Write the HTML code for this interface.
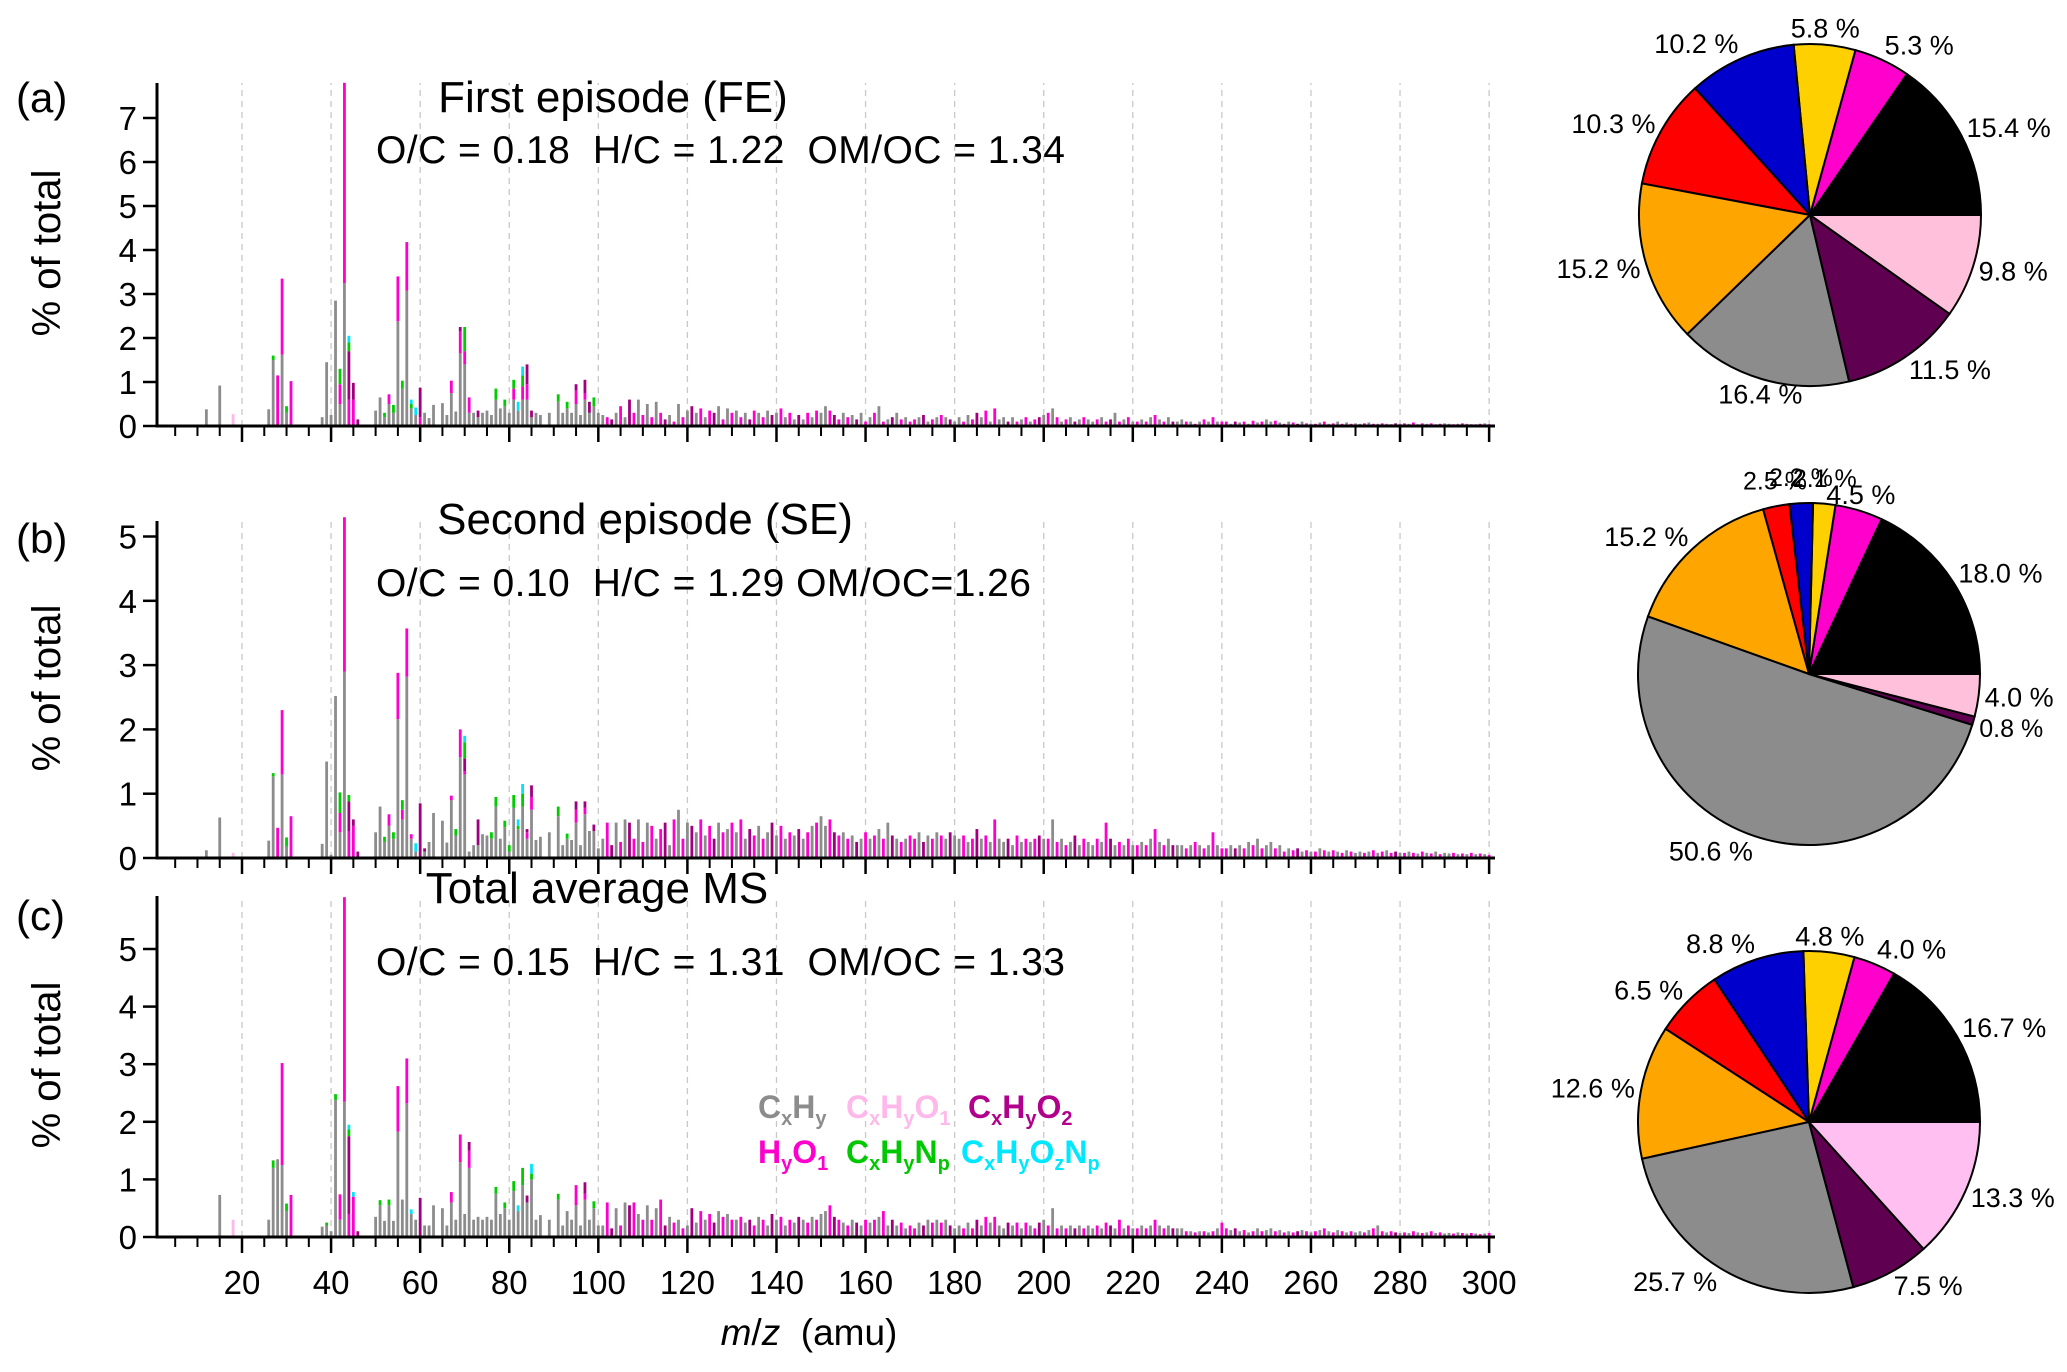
<!DOCTYPE html>
<html><head><meta charset="utf-8"><style>
html,body{margin:0;padding:0;background:#fff;}
svg{display:block;font-family:"Liberation Sans",Arial,sans-serif;}
.pre{white-space:pre;}
</style></head><body>
<svg id="chart" width="2067" height="1372" viewBox="0 0 2067 1372" xmlns="http://www.w3.org/2000/svg">
<rect width="2067" height="1372" fill="#fff"/>
<g id="plots"></g>
<g font-weight="bold" font-size="32">
 <text x="758" y="1118" fill="#8c8c8c">C<tspan font-size="20" dy="7">x</tspan><tspan dy="-7">H</tspan><tspan font-size="20" dy="7">y</tspan></text>
 <text x="846" y="1118" fill="#ffb8ea">C<tspan font-size="20" dy="7">x</tspan><tspan dy="-7">H</tspan><tspan font-size="20" dy="7">y</tspan><tspan dy="-7">O</tspan><tspan font-size="20" dy="7">1</tspan></text>
 <text x="968" y="1118" fill="#b0008c">C<tspan font-size="20" dy="7">x</tspan><tspan dy="-7">H</tspan><tspan font-size="20" dy="7">y</tspan><tspan dy="-7">O</tspan><tspan font-size="20" dy="7">2</tspan></text>
 <text x="758" y="1163" fill="#ff00cc">H<tspan font-size="20" dy="7">y</tspan><tspan dy="-7">O</tspan><tspan font-size="20" dy="7">1</tspan></text>
 <text x="846" y="1163" fill="#00c800">C<tspan font-size="20" dy="7">x</tspan><tspan dy="-7">H</tspan><tspan font-size="20" dy="7">y</tspan><tspan dy="-7">N</tspan><tspan font-size="20" dy="7">p</tspan></text>
 <text x="961" y="1163" fill="#00e8ff">C<tspan font-size="20" dy="7">x</tspan><tspan dy="-7">H</tspan><tspan font-size="20" dy="7">y</tspan><tspan dy="-7">O</tspan><tspan font-size="20" dy="7">z</tspan><tspan dy="-7">N</tspan><tspan font-size="20" dy="7">p</tspan></text>
</g>
<text class="pre" x="809" y="1345" font-size="37" text-anchor="middle"><tspan font-style="italic">m</tspan>/<tspan font-style="italic">z</tspan>  (amu)</text>
</svg>
<script>
// ---- shared m/z list for low-mass peaks ----
const peakMz=[12,15,18,26,27,28,29,30,31,38, 39,40,41,42,43,44,45,46,50,51, 52,53,54,55,56,57,58,59,60,61, 62,63,65,66,67,68,69,70,71,72, 73,74,75,76,77,78,79,80,81,82, 83,84,85,86,87,89,91,92,93,94, 95,96,97,98,99,100];
// ---- panel (a) ----
const aGray=[.38,.92,0,.38,1.5,0,1.62,.3,0,.2, 1.45,.25,2.85,.5,3.25,0,0,0,.35,.65, .2,.5,.3,2.38,.85,3.08,.4,.25,0,.3, .18,.48,.52,.25,.75,.33,1.65,1.4,.3,.3, .2,.3,.35,.25,.6,.4,.45,.3,.6,.35, .6,.6,.2,.3,.25,.3,.55,.3,.4,.3, .5,.25,.6,.3,.45,.3];
const aMag=[0,0,0,0,0,1.15,1.73,0,1.02,0, 0,0,0,.45,4.55,.6,.6,0,0,0, 0,.22,0,1.02,0,1.1,0,0,.2,0, 0,0,0,0,.28,0,.5,.3,.35,0, 0,0,0,0,0,0,0,0,.25,0, .3,.35,0,0,0,0,0,0,0,0, .3,0,.15,0,0,0];
const aPur=[0,0,0,0,0,0,0,0,0,0, 0,0,0,0,0,1.1,.38,.15,0,0, 0,0,0,0,0,0,0,0,.67,0, 0,0,0,0,0,0,.1,0,0,0, .15,0,0,0,0,0,0,0,0,0, 0,.45,.15,0,0,0,0,0,0,0, .15,0,.3,.25,0,0];
const aGrn=[0,0,0,0,.1,0,0,.15,0,0, 0,0,0,.35,0,.2,0,0,0,0, .1,0,.18,0,.18,0,.1,0,0,0, 0,0,0,0,0,0,0,.55,0,0, 0,0,0,0,.25,0,.15,0,.2,0, .25,0,0,0,0,0,.17,0,.15,0, 0,0,0,0,.2,0];
const aCyn=[0,0,0,0,0,0,0,0,0,0, 0,0,0,0,0,.15,0,0,0,0, 0,0,0,0,0,0,.1,.17,0,0, 0,0,0,0,0,0,0,0,0,0, 0,0,0,0,0,0,0,0,0,.2, .2,0,0,0,0,0,0,0,0,0, 0,0,0,0,0,0];
const aPnk=[0,0,.27,0,0,0,0,0,0,0];
const aTail=[.25,.2,.15,.3,.45,.2,.6,.3,.6,.25, .5,.2,.55,.3,.15,.25,.1,.5,.2,.35, .45,.3,.4,.2,.35,.3,.45,.15,.4,.3, .35,.2,.3,.15,.35,.3,.2,.35,.25,.3, .4,.2,.3,.15,.25,.15,.3,.2,.35,.3, .45,.35,.25,.15,.3,.2,.25,.15,.3,.1, .2,.3,.45,.1,.15,.2,.3,.15,.2,.1, .15,.2,.25,.1,.15,.2,.25,.2,.15,.1, .2,.1,.25,.15,.3,.2,.35,.1,.4,.15, .2,.1,.2,.1,.15,.2,.1,.15,.2,.25, .3,.4,.2,.1,.15,.2,.1,.15,.2,.15, .1,.15,.2,.1,.15,.3,.1,.15,.2,.1, .1,.15,.1,.2,.25,.15,.1,.2,.1,.1, .15,.1,.1,.05,.1,.15,.1,.2,.1,.1, .1,.05,.1,.08,.1,.05,.12,.08,.1,.15, .1,.12,.08,.05,.1,.08,.05,.1,.06,.05, .05,.08,.1,.05,.06,.1,.05,.08,.05,.06, .05,.06,.08,.05,.05,.06,.05,.04,.06,.05, .06,.05,.08,.04,.06,.05,.06,.04,.05,.06, .05,.04,.05,.06,.05,.04,.04,.05,.06,.04];
// ---- panel (b) ----
const bGray=[.12,.63,0,.27,1.27,0,1.3,.18,0,.22, 1.5,.05,2.52,.4,2.9,0,0,0,.4,.8, .25,.5,.3,2.16,.6,2.82,.3,.1,0,.1, .25,.7,.58,.24,.9,.35,1.57,1.3,.1,.2, .2,.37,.35,.3,.8,.3,.48,.1,.78,.45, .8,.3,.75,.28,.33,.4,.65,.2,.3,.28, .55,.2,.68,.42,.42,.15];
const bMag=[0,0,0,0,0,.47,1.0,0,.65,0, 0,0,0,.3,2.4,.42,.5,0,0,0, 0,.18,0,.72,.15,.75,.07,0,0,0, 0,0,0,0,.07,0,.43,.05,0,0, 0,0,0,0,0,0,0,0,0,0, 0,.1,.2,0,0,0,0,0,0,0, .2,0,.1,0,0,0];
const bPur=[0,0,0,0,0,0,0,0,0,0, 0,0,0,0,0,.46,.1,.1,0,0, 0,0,0,0,0,0,0,0,.85,.05, 0,0,0,0,0,0,0,.2,0,0, .4,0,0,0,0,0,0,0,0,0, 0,.05,.18,0,0,0,0,0,0,0, .13,0,.1,0,.1,0];
const bGrn=[0,0,0,0,.05,0,0,.14,0,0, 0,0,0,.32,0,.1,0,0,0,0, .08,0,.1,0,.15,0,0,0,0,0, 0,0,0,0,0,.1,0,.25,0,0, 0,0,0,.1,.15,0,.1,.1,.2,.05, .2,0,0,0,0,0,.15,0,.08,0, 0,0,0,0,0,0];
const bCyn=[0,0,0,0,0,0,0,0,0,0, 0,0,0,0,0,0,0,0,0,0, 0,0,0,0,0,0,0,.13,0,0, 0,0,0,0,0,0,0,.1,0,0, 0,0,0,0,0,0,0,0,0,.1, .15,0,0,0,0,0,0,0,0,0, 0,0,0,0,0,0];
const bPnk=[0,0,.08,0,0,0,0,0,0,0];
const bTail=[.3,.55,.2,.55,.25,.6,.55,.3,.6,.25, .55,.5,.3,.45,.55,.2,.6,.75,.3,.55, .5,.4,.6,.35,.5,.3,.55,.4,.45,.55, .4,.6,.3,.45,.35,.5,.3,.4,.55,.35, .5,.3,.4,.35,.45,.3,.4,.5,.55,.65, .5,.6,.4,.35,.4,.3,.35,.25,.3,.4, .3,.35,.45,.3,.55,.35,.3,.25,.3,.35, .3,.4,.25,.35,.3,.4,.35,.3,.4,.35, .3,.35,.25,.3,.45,.3,.35,.25,.6,.3, .25,.3,.2,.35,.25,.3,.25,.3,.35,.3, .3,.6,.25,.3,.2,.25,.35,.2,.3,.25, .2,.3,.25,.55,.3,.2,.25,.2,.3,.2, .2,.25,.2,.3,.45,.25,.2,.3,.2,.2, .2,.15,.2,.25,.2,.15,.2,.4,.2,.15, .15,.2,.15,.2,.15,.25,.2,.3,.15,.2, .25,.15,.2,.1,.15,.12,.15,.1,.12,.1, .1,.15,.12,.1,.12,.1,.08,.12,.1,.08, .1,.08,.1,.12,.08,.1,.12,.08,.1,.08, .08,.1,.08,.07,.1,.08,.07,.1,.06,.08, .07,.08,.06,.07,.06,.08,.06,.07,.06,.05];
// ---- panel (c) ----
const cGray=[0,.73,0,.3,1.2,1.35,1.25,.45,0,.18, .2,.1,2.38,.3,2.35,0,0,0,.35,.55, .28,.55,.28,1.83,.65,2.32,.4,.3,0,.2, .2,.55,.5,.2,.6,.3,1.3,.4,1.2,.3, .35,.3,.35,.3,.75,.4,.5,.3,.8,.45, .9,.6,1.0,.3,.38,.3,.65,.2,.45,.3, .55,.2,.65,.3,.5,.2];
const cMag=[0,0,0,0,0,0,1.77,0,.73,0, 0,0,0,.44,3.55,.4,.7,0,0,0, 0,0,0,.79,0,.78,0,0,0,0, 0,0,0,0,.18,0,.48,0,.3,0, 0,0,0,0,0,0,0,0,0,0, 0,0,0,0,0,0,0,0,0,0, .35,0,.1,0,0,0];
const cPur=[0,0,0,0,0,0,0,0,0,0, 0,0,0,0,0,1.35,0,.1,0,0, 0,0,0,0,0,0,0,0,.68,0, 0,0,0,0,0,0,0,0,.15,0, 0,0,0,0,0,0,0,0,0,0, 0,.12,0,0,0,0,0,0,0,0, 0,0,.2,0,0,0];
const cGrn=[0,0,0,0,.13,0,0,.13,0,0, .05,0,.1,0,0,.12,0,0,0,.09, 0,.1,0,0,0,0,0,0,0,0, 0,0,0,0,0,0,0,0,0,0, 0,0,0,0,.12,0,.1,0,.17,0, .3,0,.1,0,0,0,.1,0,0,0, 0,0,0,0,.12,0];
const cCyn=[0,0,0,0,0,0,0,0,0,0, 0,0,0,0,0,.08,.08,0,0,0, 0,0,0,0,0,0,.08,0,0,0, 0,0,0,0,0,0,0,0,0,0, 0,0,0,0,0,0,0,0,0,.1, 0,0,.17,0,0,0,0,0,0,0, 0,0,0,0,0,0];
const cPnk=[0,0,.3,0,0,0,0,0,0,0];
const cTail=[.2,.6,.15,.5,.2,.6,.55,.6,.4,.3, .55,.3,.5,.65,.2,.35,.25,.3,.15,.2, .5,.25,.45,.3,.4,.25,.45,.35,.4,.3, .3,.35,.25,.3,.2,.35,.3,.2,.4,.3, .35,.2,.3,.25,.35,.3,.25,.35,.3,.4, .45,.55,.35,.3,.25,.2,.3,.25,.2,.3, .25,.3,.35,.45,.2,.3,.2,.25,.15,.2, .15,.25,.2,.3,.25,.3,.25,.3,.2,.15, .2,.15,.25,.15,.3,.2,.35,.25,.35,.2, .15,.25,.2,.25,.15,.25,.2,.15,.25,.3, .2,.5,.15,.2,.15,.2,.15,.2,.15,.2, .15,.2,.15,.25,.2,.15,.3,.15,.2,.15, .15,.2,.15,.2,.3,.2,.15,.2,.15,.15, .15,.1,.1,.08,.1,.1,.08,.1,.15,.25, .15,.12,.15,.1,.12,.08,.1,.15,.1,.12, .15,.1,.12,.08,.1,.08,.1,.12,.1,.08, .1,.12,.15,.1,.08,.12,.1,.08,.1,.08, .1,.08,.12,.15,.2,.1,.08,.1,.08,.07, .08,.07,.1,.08,.07,.08,.1,.07,.08,.06, .07,.06,.08,.07,.06,.07,.06,.05,.06,.07];
// tail colour class per m/z 101..300 (g=CxHy, m=HyO1, p=CxHyO2)
const tailColors="gmpgmgpmgmgmgmpgmgmgpgmgmpgmgmgmgpmgmgpgmgmgpgmgmggmpmgmgpgmgmgmgpgmgmmgpgmgmgpggmgmpgmgmggpgmgmgmpgmgmgmgpgmggmgmpgmgmgmgmgmgmgpggmgmgmgmgmmgpgmgmgmggmgmgmpgmgmgmgmgmgmggmgmgmgmpgmgmgmgmgmggmgmgmgmgm";
// ---- pies (order: CCW from 3 o'clock) ----
const pieA=[15.4,5.3,5.8,10.2,10.3,15.2,16.4,11.5,9.8];
const pieB=[18.0,4.5,2.1,2.2,2.5,15.2,50.6,0.8,4.0];
const pieC=[16.7,4.0,4.8,8.8,6.5,12.6,25.7,7.5,13.3];
const yTicksA=[0,1,2,3,4,5,6,7];
const yTicksB=[0,1,2,3,4,5];
const yTicksC=[0,1,2,3,4,5];
const xTickLabels=[20,40,60,80,100,120,140,160,180,200,220,240,260,280,300];

const NS="http://www.w3.org/2000/svg";
const root=document.getElementById('plots');
function mk(tag,attrs,parent){const e=document.createElementNS(NS,tag);for(const k in attrs)e.setAttribute(k,attrs[k]);(parent||root).appendChild(e);return e;}
const X0=157,X1=1495;
function xs(mz){return 242+(mz-20)*4.454;}
const COL={gray:'#8c8c8c',mag:'#ff00cc',pur:'#a0007e',grn:'#00cc00',cyn:'#00e5ff',pnk:'#ffb8ea'};
const tailMap={g:'#8c8c8c',m:'#ff00cc',p:'#a0007e'};

function panel(id,base,ppu,top,ticks,showLabels,letter,title,ratio,titleY,ratioY,yTitleY,ser,tail,ratioLen){
  const g=mk('g',{});
  
  
  const ys=v=>base-v*ppu;
  for(let m=20;m<=300;m+=20){
    const l=mk('line',{x1:xs(m),x2:xs(m),y1:base,y2:top,stroke:'#c8c8c8','stroke-width':1.3,'stroke-dasharray':'6,5'},g);
    
    
  }
  const bw=2.8;
  for(let i=0;i<peakMz.length;i++){
    let y=0;
    const segs=[['gray',ser.gray],['pnk',ser.pnk],['mag',ser.mag],['pur',ser.pur],['grn',ser.grn],['cyn',ser.cyn]];
    for(const [k,arr] of segs){
      const v=arr[i]||0; if(v<=0) continue;
      const r=mk('rect',{x:xs(peakMz[i])-bw/2,y:ys(y+v),width:bw,height:v*ppu,fill:COL[k]},g);
      
      
      y+=v;
    }
  }
  for(let i=0;i<tail.length;i++){
    const mz=101+i,v=tail[i];
    const r=mk('rect',{x:xs(mz)-bw/2,y:ys(v),width:bw,height:v*ppu,fill:tailMap[tailColors[i]]||'#8c8c8c'},g);
    
    
  }
  const ya=mk('line',{x1:X0,x2:X0,y1:top,y2:base+1.5,stroke:'#000','stroke-width':3},g);
  
  
  const xa=mk('line',{x1:X0-1.5,x2:X1,y1:base,y2:base,stroke:'#000','stroke-width':3},g);
  
  
  for(let m=5;m<=300;m+=5){
    const major=m%20===0;
    const t=mk('line',{x1:xs(m),x2:xs(m),y1:base,y2:base+(major?16:10),stroke:'#000','stroke-width':major?2.5:2},g);
    
    
  }
  if(showLabels){
    for(const v of xTickLabels){
      const t=mk('text',{x:xs(v),y:1294,'font-size':33,'text-anchor':'middle'},g);
      t.textContent=v;
      
      
    }
  }
  for(const v of ticks){
    const t=mk('line',{x1:X0-14,x2:X0,y1:ys(v),y2:ys(v),stroke:'#000','stroke-width':2.5},g);
    
    
    const l=mk('text',{x:X0-20,y:ys(v)+12,'font-size':33,'text-anchor':'end'},g);
    l.textContent=v;
    
    
  }
  const yt=mk('text',{x:60,y:yTitleY,'font-size':40,'text-anchor':'middle',transform:'rotate(-90 60 '+yTitleY+')'},g);
  yt.textContent='% of total';
  
  
  const pl=mk('text',{x:16,y:letter[1],'font-size':42},g);
  pl.textContent=letter[0];
  
  
  const tt=mk('text',{x:title[1],y:titleY,'font-size':44,'text-anchor':'middle'},g);
  tt.textContent=title[0];
  
  
  const rt=mk('text',{x:376,y:ratioY,'font-size':39,'class':'pre',textLength:ratioLen,lengthAdjust:'spacing'},g);
  rt.textContent=ratio;
  
  
}

panel('a',426,44,83,yTicksA,false,['(a)',112],['First episode (FE)',613],'O/C = 0.18  H/C = 1.22  OM/OC = 1.34',112,163,253,
  {gray:aGray,mag:aMag,pur:aPur,grn:aGrn,cyn:aCyn,pnk:aPnk},aTail,689);
panel('b',858,64.3,521,yTicksB,false,['(b)',553],['Second episode (SE)',645],'O/C = 0.10  H/C = 1.29 OM/OC=1.26',534,596,688,
  {gray:bGray,mag:bMag,pur:bPur,grn:bGrn,cyn:bCyn,pnk:bPnk},bTail,655);
panel('c',1237,57.6,896,yTicksC,true,['(c)',930],['Total average MS',597],'O/C = 0.15  H/C = 1.31  OM/OC = 1.33',903,975,1065,
  {gray:cGray,mag:cMag,pur:cPur,grn:cGrn,cyn:cCyn,pnk:cPnk},cTail,689);

const pieCols=['#000000','#ff00cc','#ffd000','#0000cc','#ff0000','#ffa500','#8c8c8c','#600050','#ffc0dc'];
function pie(id,vals,cx,cy,r,pinkCol){
  const g=mk('g',{});
  
  
  const tot=vals.reduce((a,b)=>a+b,0);
  let a0=0;
  vals.forEach((v,i)=>{
    const a1=a0+v/tot*2*Math.PI;
    const x0=cx+r*Math.cos(a0),y0=cy-r*Math.sin(a0),x1=cx+r*Math.cos(a1),y1=cy-r*Math.sin(a1);
    const large=(a1-a0)>Math.PI?1:0;
    const col=(i===8&&pinkCol)?pinkCol:pieCols[i];
    const p=mk('path',{d:`M${cx},${cy} L${x0},${y0} A${r},${r} 0 ${large} 0 ${x1},${y1} Z`,fill:col,stroke:'#000','stroke-width':2},g);
    
    
    const am=(a0+a1)/2;
    const c=Math.cos(am),s=Math.sin(am);
    const small=v<3;
    const lx=cx+(r+6)*c,ly=cy-(r+(small?26:16))*s;
    const t=mk('text',{x:lx,y:ly+9,'font-size':small?25:27,'text-anchor':c>0.3?'start':(c<-0.3?'end':'middle')},g);
    t.textContent=v.toFixed(1)+' %';
    
    
    a0=a1;
  });
}
pie('a',pieA,1810,215,171);
pie('b',pieB,1809,674,171);
pie('c',pieC,1809,1122,171,'#ffbff0');
</script>
</body></html>
